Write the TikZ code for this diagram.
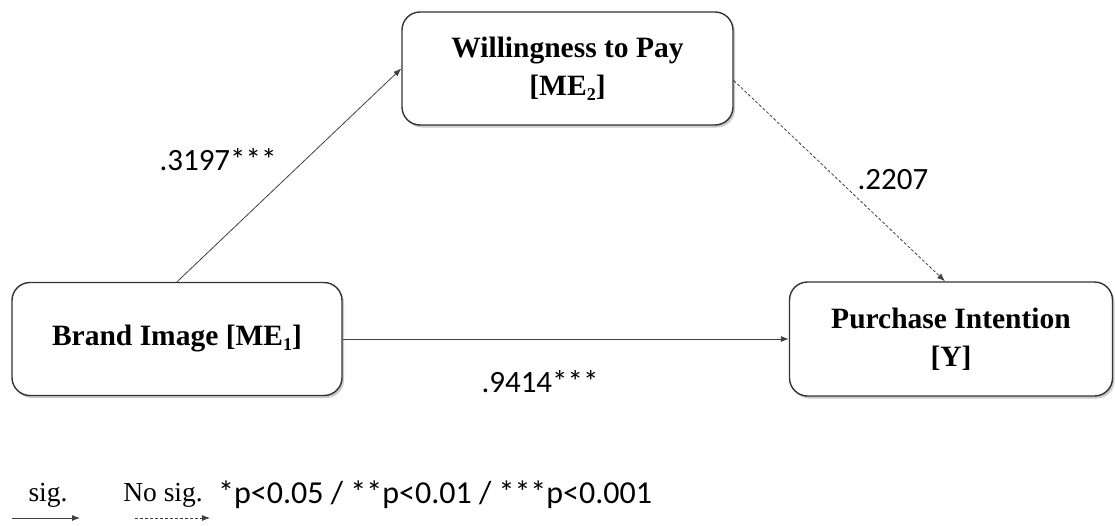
\documentclass[tikz,border=0pt]{standalone}
\usepackage{fontspec}
\setmainfont{Liberation Serif}
\newfontfamily\lblfont{Carlito}
\usetikzlibrary{arrows.meta,shadows}
\newcommand\lowsub[1]{\raisebox{-0.35ex}{\fontsize{18}{18}\selectfont #1}}
\begin{document}
\begin{tikzpicture}[x=1pt,y=-1pt,
  varbox/.style={draw=black!80, line width=1.4pt, rounded corners=18pt, fill=white,
    align=center, font=\fontsize{29.5}{38}\selectfont\bfseries, inner sep=0pt,
    drop shadow={shadow xshift=2pt, shadow yshift=-2.5pt, opacity=0.35, fill=black!60}},
  coef/.style={font=\lblfont\fontsize{31}{36}\selectfont, inner sep=0pt},
  path/.style={draw=black!75, line width=0.8pt, -{Latex[length=8pt,width=6pt]}},
  nopath/.style={path, dash pattern=on 3pt off 2pt},
  legend/.style={font=\fontsize{27.5}{32}\selectfont, inner sep=0pt}]
\useasboundingbox (0,0) rectangle (1115,525);

% the three constructs
\node[varbox, minimum width=330pt, minimum height=113pt] (b) at (177,339)
  {Brand Image [ME\lowsub{1}]};
\node[varbox, minimum width=331pt, minimum height=113pt] (w) at (567.5,68.5)
  {Willingness to Pay\\{}[ME\lowsub{2}]};
\node[varbox, minimum width=323pt, minimum height=114pt] (p) at (951,339)
  {Purchase Intention\\{}[Y]};

% paths between them
\draw[path] (b.north) -- (w.west);
\draw[nopath] ([yshift=-12pt]w.east) -- ([xshift=-6pt]p.north);
\draw[path] (b.east) -- (p.west);

% path coefficients
\node[coef] (c1) at (218,160) {.3197***};
\node[coef] (c2) at (893,180) {.2207};
\node[coef] (c3) at (540,382) {.9414***};

% legend
\node[legend] (ls) at (48,495) {sig.};
\node[legend] (ln) at (163,495) {No sig.};
\node[coef, anchor=west, font=\lblfont\fontsize{32}{36}\selectfont] (lp) at (218,495)
  {*p<0.05 / **p<0.01 / ***p<0.001};
\coordinate (s0) at (12,518);
\coordinate (s1) at (80,518);
\coordinate (n0) at (135,518);
\coordinate (n1) at (210,518);
\draw[path] (s0) -- (s1);
\draw[nopath] (n0) -- (n1);
\end{tikzpicture}
\end{document}
